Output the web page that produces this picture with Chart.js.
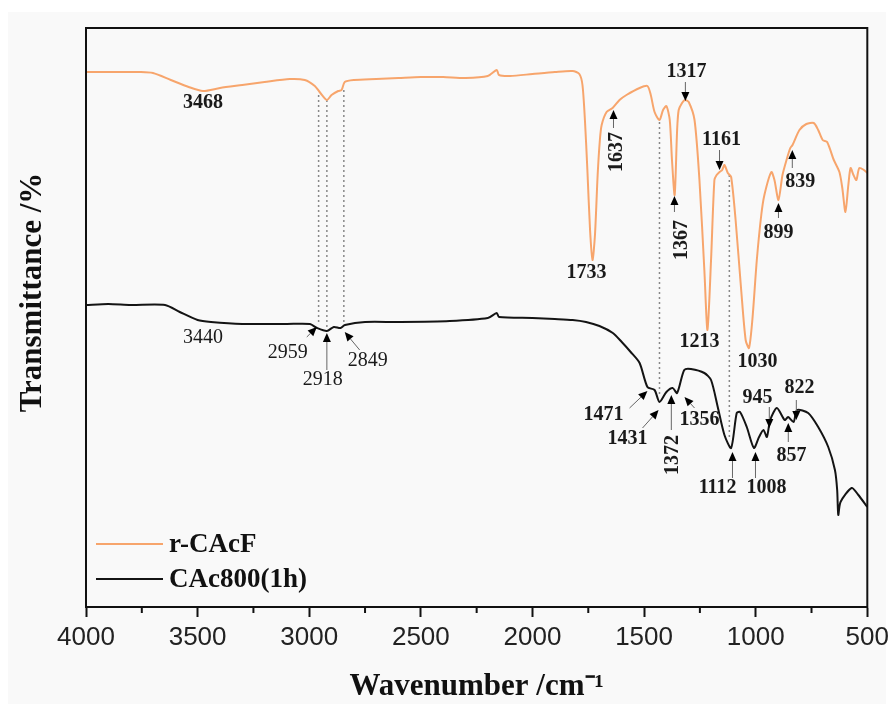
<!DOCTYPE html>
<html><head><meta charset="utf-8">
<script src="https://cdn.jsdelivr.net/npm/chart.js@4"></script>
<style>html,body{margin:0;padding:0;background:#fff}#wrap{width:894px;height:704px}</style>
</head><body><div id="wrap"><canvas id="c" width="894" height="704"></canvas></div>
<script>
const seriesNames = ['r-CAcF', 'CAc800(1h)'];
const seriesColors = ['#F7A56C', '#141414'];

const rcacfWn = [4000,3848,3760,3700,3620,3540,3476,3400,3300,3200,3087,3020,2975,2950,2921,2900,2870,2855,2841,2800,2700,2600,2500,2400,2300,2200,2160,2150,2100,2000,1900,1820,1790,1776,1765,1754,1742,1731,1720,1708,1698,1690,1668,1641,1610,1579,1520,1485,1470,1453,1431,1415,1400,1385,1375,1363,1352,1345,1330,1317,1300,1274,1252,1230,1216,1200,1185,1175,1162,1150,1140,1125,1110,1090,1065,1045,1030,1015,995,975,961,930,916,898,880,862,845,835,804,773,740,720,700,680,650,625,612,598,585,575,562,549,536,515,500];
const rcacfT = [535,535,535,534,527,520,516,519,522,525,528,527,521,514,507,512,516,517,525,527,528,529,530,530,529,531,537,532,531,533,535,536,533,522,487,437,377,347,372,432,467,482,495,499,507,512,519,521,512,495,487,497,501,487,447,412,477,497,504,507,505,487,427,337,277,347,427,432,435,437,442,434,430,387,317,267,259,287,347,392,412,435,427,407,432,447,459,462,477,483,484,477,467,465,447,435,419,395,422,439,432,427,439,437,434];

const cacWn = [4000,3900,3800,3646,3580,3500,3440,3300,3100,2997,2965,2921,2890,2860,2840,2750,2600,2371,2200,2160,2150,2000,1900,1820,1760,1700,1640,1600,1560,1520,1485,1453,1431,1400,1372,1352,1320,1290,1230,1200,1170,1140,1110,1085,1070,1040,1008,985,965,950,935,905,870,855,830,815,765,720,675,645,635,630,620,570,540,500];
const cacT = [302,303,302,302,295,287,285,283,283,283,279,276,280,279,282,285,285,286,289,294,290,289,288,287,285,281,274,265,255,244,220,217,205,215,219,214,237,238,234,227,200,172,159,194,195,180,159,170,177,170,187,199,187,190,185,197,194,180,160,137,117,92,105,119,112,100];

const majorTicks = [4000,3500,3000,2500,2000,1500,1000,500];
const minorTicks = [3750,3250,2750,2250,1750,1250,750];

// peak labels: text, wavenumber, transmittance, rotated, bold
const peakLabels = [
  ['3468',3476,504,false,true],
  ['1733',1758,334,false,true],
  ['1637',1623,455,true,true],
  ['1317',1310,535,false,true],
  ['1367',1332,367,true,true],
  ['1161',1153,467,false,true],
  ['1213',1252,265,false,true],
  ['1030',992,245,false,true],
  ['899',898,374,false,true],
  ['839',800,425,false,true],
  ['3440',3476,269,false,false],
  ['2959',3096,254,false,false],
  ['2918',2939,227,false,false],
  ['2849',2738,246,false,false],
  ['1471',1682,192,false,true],
  ['1431',1574,168,false,true],
  ['1372',1373,152,true,true],
  ['1356',1252,187,false,true],
  ['1112',1171,119,false,true],
  ['1008',952,119,false,true],
  ['945',992,209,false,true],
  ['857',840,151,false,true],
  ['822',804,219,false,true]
];
// arrows: from (wn, T) to (wn, T)
const peakArrows = [
  [1637,479,1637,497],[1315,525,1315,506],[1364,395,1364,411],[1162,457,1162,437],
  [898,389,898,404],[836,439,836,457],
  [3011,270,2966,280],[2921,237,2921,274],[2774,257,2841,275],
  [1565,199,1485,216],[1507,179,1435,197],[1378,177,1378,212],[1274,199,1319,210],
  [1104,129,1104,155],[1001,129,1001,155],[939,200,939,179],[854,165,854,184],[818,207,818,187]
];
// dotted guide lines: wavenumber, top T, bottom T
const dropLines = [[2958,512,282],[2921,507,279],[2845,517,282],[1431,485,210],[1118,432,167]];

const SERIF = "'Liberation Serif','Times New Roman',serif";

const decor = {
  id: 'decor',
  beforeDraw(chart) {
    const ctx = chart.ctx;
    ctx.save();
    ctx.fillStyle = '#ffffff';
    ctx.fillRect(0, 0, chart.width, chart.height);
    ctx.fillStyle = '#f9f9f9';
    ctx.fillRect(8, 12, chart.width - 16, chart.height - 12);
    ctx.restore();
  },
  beforeDatasetsDraw(chart) {
    const {ctx, scales: {x, y}} = chart;
    ctx.save();
    ctx.strokeStyle = '#888';
    ctx.lineWidth = 1.5;
    ctx.setLineDash([2, 3]);
    dropLines.forEach(([w, t1, t2]) => {
      const px = x.getPixelForValue(w);
      ctx.beginPath();
      ctx.moveTo(px, y.getPixelForValue(t1));
      ctx.lineTo(px, y.getPixelForValue(t2));
      ctx.stroke();
    });
    ctx.restore();
  },
  afterDraw(chart) {
    const {ctx, chartArea: a, scales: {x, y}} = chart;
    ctx.save();
    ctx.strokeStyle = '#111';
    ctx.lineWidth = 2;
    ctx.strokeRect(a.left, a.top, a.right - a.left, a.bottom - a.top);
    minorTicks.forEach(v => {
      const px = x.getPixelForValue(v);
      ctx.beginPath();
      ctx.moveTo(px, a.bottom);
      ctx.lineTo(px, a.bottom + 6);
      ctx.stroke();
    });
    peakArrows.forEach(([w1, t1, w2, t2]) => {
      const x1 = x.getPixelForValue(w1), y1 = y.getPixelForValue(t1);
      const x2 = x.getPixelForValue(w2), y2 = y.getPixelForValue(t2);
      const ang = Math.atan2(y2 - y1, x2 - x1);
      const L = 9, W = 4;
      const bx = x2 - L * Math.cos(ang), by = y2 - L * Math.sin(ang);
      ctx.strokeStyle = '#666';
      ctx.lineWidth = 1;
      ctx.beginPath();
      ctx.moveTo(x1, y1);
      ctx.lineTo(bx, by);
      ctx.stroke();
      ctx.fillStyle = '#000';
      ctx.beginPath();
      ctx.moveTo(x2, y2);
      ctx.lineTo(bx + W * Math.sin(ang), by - W * Math.cos(ang));
      ctx.lineTo(bx - W * Math.sin(ang), by + W * Math.cos(ang));
      ctx.closePath();
      ctx.fill();
    });
    ctx.fillStyle = '#1a1a1a';
    ctx.textAlign = 'center';
    ctx.textBaseline = 'middle';
    peakLabels.forEach(([txt, w, t, rot, bold]) => {
      const px = x.getPixelForValue(w), py = y.getPixelForValue(t);
      ctx.font = (bold ? 'bold ' : '') + '20px ' + SERIF;
      ctx.save();
      ctx.translate(px, py);
      if (rot) ctx.rotate(-Math.PI / 2);
      ctx.fillText(txt, 0, 0);
      ctx.restore();
    });
    const ly = [a.bottom - 63, a.bottom - 28];
    chart.data.datasets.forEach((ds, i) => {
      ctx.strokeStyle = ds.borderColor;
      ctx.lineWidth = 2;
      ctx.beginPath();
      ctx.moveTo(a.left + 10, ly[i]);
      ctx.lineTo(a.left + 77, ly[i]);
      ctx.stroke();
      ctx.fillStyle = '#111';
      ctx.textAlign = 'left';
      ctx.font = 'bold 27px ' + SERIF;
      ctx.fillText(ds.label, a.left + 83, ly[i] + 1);
    });
    ctx.save();
    ctx.translate(a.left - 53, (a.top + a.bottom) / 2 - 25);
    ctx.rotate(-Math.PI / 2);
    ctx.textAlign = 'center';
    ctx.font = 'bold 31px ' + SERIF;
    ctx.fillStyle = '#111';
    ctx.fillText('Transmittance /%', 0, 0);
    ctx.restore();
    ctx.restore();
  }
};

const toPts = (ws, ts) => ws.map((w, i) => ({x: w, y: ts[i]}));

new Chart(document.getElementById('c'), {
  type: 'line',
  data: {
    datasets: [
      {label: seriesNames[0], data: toPts(rcacfWn, rcacfT), borderColor: seriesColors[0], borderWidth: 2, pointRadius: 0, tension: 0.25, fill: false},
      {label: seriesNames[1], data: toPts(cacWn, cacT), borderColor: seriesColors[1], borderWidth: 2, pointRadius: 0, tension: 0.25, fill: false}
    ]
  },
  options: {
    responsive: false,
    animation: false,
    devicePixelRatio: 1,
    layout: {padding: {top: 28, right: 26, left: 0, bottom: 0}},
    plugins: {legend: {display: false}, tooltip: {enabled: false}},
    scales: {
      x: {
        type: 'linear', reverse: true, min: 500, max: 4000,
        afterBuildTicks: s => { s.ticks = majorTicks.map(v => ({value: v})); },
        afterFit: s => { s.height = 97; },
        ticks: {autoSkip: false, maxRotation: 0, padding: 5, color: '#222', callback: v => String(v), font: {family: "'Liberation Sans',Arial,sans-serif", size: 26}},
        grid: {drawOnChartArea: false, drawTicks: true, tickLength: 10, tickColor: '#111', tickWidth: 2},
        border: {display: true, color: '#111', width: 2},
        title: {display: true, text: 'Wavenumber /cm\u207B\u00B9', color: '#111', font: {family: SERIF, size: 31, weight: 'bold', lineHeight: 1}, padding: {top: 0, bottom: 2}}
      },
      y: {
        min: 0, max: 579,
        afterFit: s => { s.width = 86; },
        ticks: {display: false},
        grid: {display: false, drawTicks: false},
        border: {display: true, color: '#111', width: 2}
      }
    }
  },
  plugins: [decor]
});
</script></body></html>
